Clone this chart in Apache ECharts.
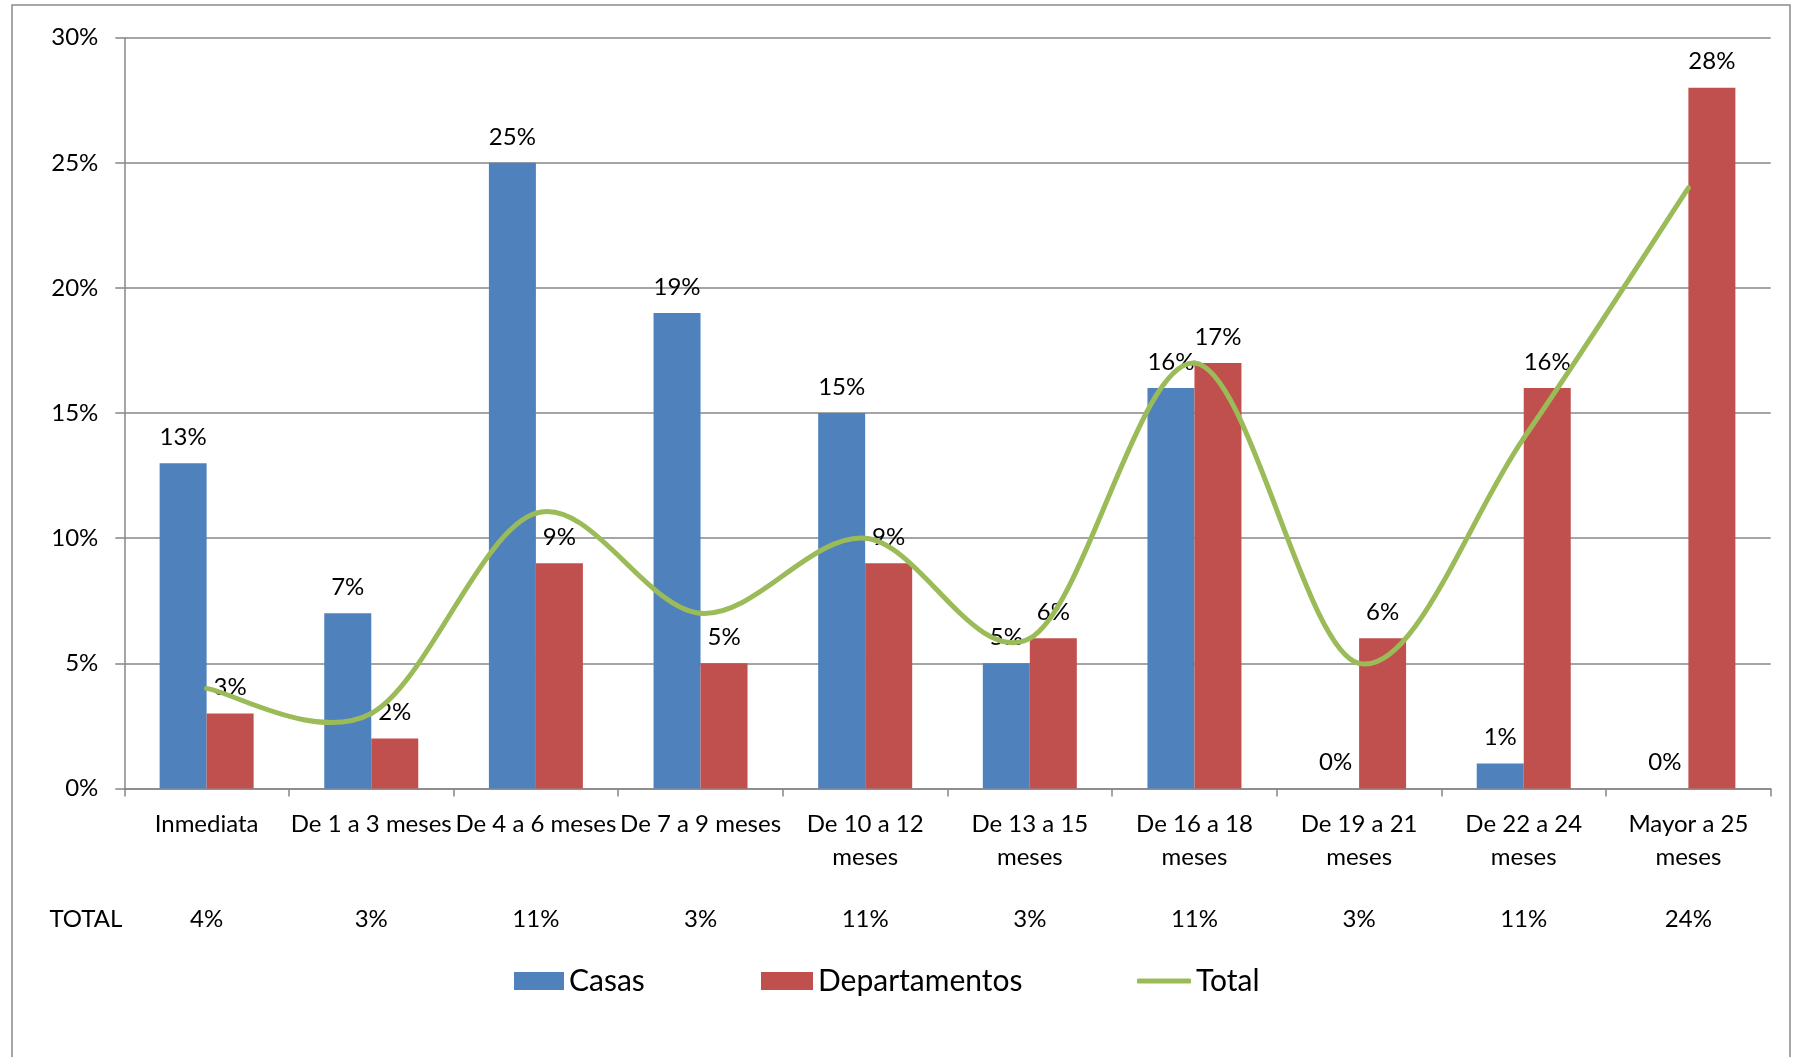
<!DOCTYPE html>
<html>
<head>
<meta charset="utf-8">
<script src="https://cdn.jsdelivr.net/npm/echarts@6/dist/echarts.min.js"></script>
<style>
  html, body { margin: 0; padding: 0; background: #fff; }
  #chart { width: 1795px; height: 1057px; }
</style>
</head>
<body>
<div id="chart"></div>
<script>
// Plazo de entrega: porcentaje por tipo de vivienda
const categories = [
  'Inmediata', 'De 1 a 3 meses', 'De 4 a 6 meses', 'De 7 a 9 meses',
  'De 10 a 12\nmeses', 'De 13 a 15\nmeses', 'De 16 a 18\nmeses',
  'De 19 a 21\nmeses', 'De 22 a 24\nmeses', 'Mayor a 25\nmeses'
];
const casas = [13, 7, 25, 19, 15, 5, 16, 0, 1, 0];
const departamentos = [3, 2, 9, 5, 9, 6, 17, 6, 16, 28];
const total = [4, 3, 11, 7, 10, 6, 17, 5, 14, 24];
const totalRow = ['4%', '3%', '11%', '3%', '11%', '3%', '11%', '3%', '11%', '24%'];
const yTicks = { min: 0, max: 30, interval: 5 };

const FONT = 'Lato, "Open Sans", sans-serif';
const GRAY = '#878787';
const BLUE = '#4F81BD', RED = '#C0504D', GREEN = '#9BBB59';

const chart = echarts.init(document.getElementById('chart'), null, { renderer: 'canvas' });

const legendText = { color: '#000', fontSize: 30, lineHeight: 30, fontFamily: FONT };

// Smoothed total line: one Catmull-Rom segment per pair of neighbouring points,
// positioned with the chart's own coordinate system.
function renderTotalSegment(params, api) {
  const i = params.dataIndexInside;
  const n = params.dataInsideLength;
  if (i >= n - 1) return null;
  const pt = (k) => {
    const kk = Math.max(0, Math.min(n - 1, k));
    return api.coord([api.value(0, kk), api.value(1, kk)]);
  };
  const p0 = pt(i - 1), p1 = pt(i), p2 = pt(i + 1), p3 = pt(i + 2);
  return {
    type: 'bezierCurve',
    shape: {
      x1: p1[0], y1: p1[1],
      cpx1: p1[0] + (p2[0] - p0[0]) / 6, cpy1: p1[1] + (p2[1] - p0[1]) / 6,
      cpx2: p2[0] - (p3[0] - p1[0]) / 6, cpy2: p2[1] - (p3[1] - p1[1]) / 6,
      x2: p2[0], y2: p2[1]
    },
    style: { fill: null, stroke: GREEN, lineWidth: 5, lineCap: 'round', lineJoin: 'round' }
  };
}

chart.setOption({
  animation: false,
  backgroundColor: '#fff',
  textStyle: { fontFamily: FONT },
  color: [BLUE, RED, GREEN],
  graphic: [{
    type: 'rect',
    shape: { x: 12, y: 5, width: 1778, height: 1070 },
    style: { fill: 'none', stroke: '#8a8a8a', lineWidth: 1.5 },
    silent: true
  }],
  legend: [
    { data: ['Casas'], left: 514, top: 966, padding: 0, itemWidth: 50, itemHeight: 18, itemGap: 0, textStyle: legendText, icon: 'rect' },
    { data: ['Departamentos'], left: 761, top: 966, padding: 0, itemWidth: 52, itemHeight: 18, itemGap: 0, textStyle: legendText, icon: 'rect' },
    { data: ['Total'], left: 1137, top: 966, padding: 0, itemWidth: 54, itemHeight: 5, itemGap: 0, textStyle: legendText, icon: 'roundRect' }
  ],
  grid: { left: 124.3, right: 24.3, top: 37.7, bottom: 268.5, containLabel: false },
  xAxis: [{
    type: 'category',
    data: categories,
    position: 'bottom',
    axisLine: { show: true, lineStyle: { color: GRAY, width: 1.5 } },
    axisTick: { show: true, length: 8, lineStyle: { color: GRAY, width: 1.5 } },
    axisLabel: {
      interval: 0, margin: 19.5, color: '#000', fontSize: 24, lineHeight: 33, fontFamily: FONT
    },
    splitLine: { show: false }
  }, {
    type: 'category',
    data: totalRow,
    position: 'bottom',
    offset: 131,
    name: 'TOTAL',
    nameLocation: 'start',
    nameGap: 2,
    nameTextStyle: { color: '#000', fontSize: 24, fontFamily: FONT, verticalAlign: 'middle' },
    axisLine: { show: false },
    axisTick: { show: false },
    axisLabel: { interval: 0, margin: 0, color: '#000', fontSize: 24, verticalAlign: 'middle', fontFamily: FONT },
    splitLine: { show: false }
  }],
  yAxis: {
    type: 'value',
    min: yTicks.min,
    max: yTicks.max,
    interval: yTicks.interval,
    axisLine: { show: true, lineStyle: { color: GRAY, width: 1.5 } },
    axisTick: { show: true, length: 9, lineStyle: { color: GRAY, width: 1.5 } },
    axisLabel: { formatter: '{value}%', margin: 26, color: '#000', fontSize: 24, fontFamily: FONT },
    splitLine: { show: true, lineStyle: { color: GRAY, width: 1.5 } }
  },
  series: [{
    name: 'Casas',
    type: 'bar',
    xAxisIndex: 0,
    data: casas,
    barWidth: 47,
    barGap: '0%',
    itemStyle: { color: BLUE },
    label: {
      show: true, position: 'top', distance: 14, formatter: '{c}%',
      color: '#000', fontSize: 24, lineHeight: 24, fontFamily: FONT
    },
    z: 2
  }, {
    name: 'Departamentos',
    type: 'bar',
    xAxisIndex: 0,
    data: departamentos,
    barWidth: 47,
    barGap: '0%',
    itemStyle: { color: RED },
    label: {
      show: true, position: 'top', distance: 14, formatter: '{c}%',
      color: '#000', fontSize: 24, lineHeight: 24, fontFamily: FONT
    },
    z: 2
  }, {
    name: 'Total',
    type: 'custom',
    xAxisIndex: 0,
    data: total.map((v, i) => [i, v]),
    encode: { x: 0, y: 1 },
    renderItem: renderTotalSegment,
    itemStyle: { color: GREEN },
    z: 3
  }]
});
</script>
</body>
</html>
